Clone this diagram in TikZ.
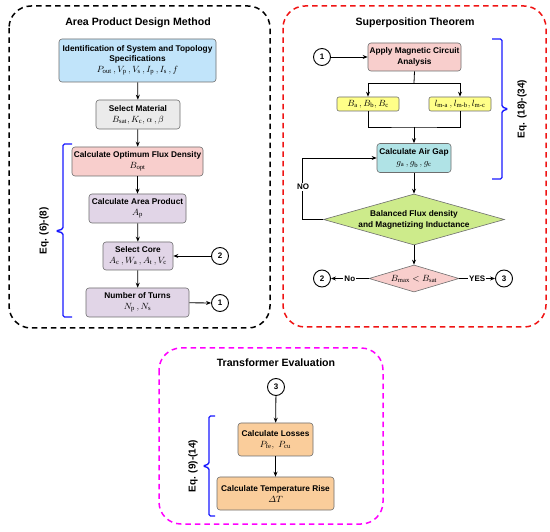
\documentclass[tikz,border=0pt]{standalone}
\usepackage{amsmath}
\usepackage{fontspec}
\setmainfont{Liberation Serif}
\setsansfont{Liberation Sans}
\usetikzlibrary{shapes.geometric,arrows.meta}
\definecolor{cblue}{RGB}{193,228,250}
\definecolor{cgray}{RGB}{235,235,235}
\definecolor{cred}{RGB}{248,206,204}
\definecolor{cpurple}{RGB}{225,213,231}
\definecolor{cyellow}{RGB}{255,255,136}
\definecolor{ccyan}{RGB}{176,227,230}
\definecolor{cgreen}{RGB}{205,235,139}
\definecolor{corange}{RGB}{250,205,155}
\definecolor{boxline}{RGB}{110,110,110}
\definecolor{braceblue}{RGB}{25,25,255}
\definecolor{framered}{RGB}{240,20,20}
\definecolor{framemag}{RGB}{255,0,255}
\newcommand{\mline}[1]{{\fontsize{9.5}{11}\selectfont$#1$}}
\tikzset{
 box/.style={draw=boxline, line width=0.6pt, rounded corners=3pt, align=center,
   font=\sffamily\bfseries\fontsize{8.3}{11}\selectfont, inner sep=1pt},
 circ/.style={draw, circle, line width=0.9pt, minimum size=17pt, inner sep=0pt,
   font=\sffamily\bfseries\fontsize{8}{9}\selectfont},
 arr/.style={-{Stealth[length=5pt,width=4pt]}, line width=0.8pt},
 ln/.style={line width=0.8pt},
 frame/.style={dash pattern=on 5.5pt off 4pt, line width=1.5pt, rounded corners=22pt},
 brace/.style={draw=braceblue, line width=1.4pt, rounded corners=1.5pt},
 title/.style={font=\sffamily\bfseries\fontsize{10.6}{12}\selectfont},
 eqlab/.style={font=\sffamily\bfseries\fontsize{10}{12}\selectfont, rotate=90},
 lab/.style={font=\sffamily\bfseries\fontsize{8}{9}\selectfont, fill=white, inner sep=1pt},
 dia/.style={draw=boxline, line width=0.6pt, diamond, inner sep=0pt},
 diatext/.style={align=center, font=\sffamily\bfseries\fontsize{8.3}{11}\selectfont},
}
\begin{document}
\begin{tikzpicture}[x=1pt,y=-1pt]
\useasboundingbox (0,0) rectangle (550,532);
\fill[white] (0,0) rectangle (550,532);
% frames
\draw[frame, black] (9,6) rectangle (270,328);
\draw[frame, framered] (283,6) rectangle (546,327);
\draw[frame, framemag] (159,348) rectangle (383,524);
% titles
\node[title] (t1) at (138,23) {Area Product Design Method};
\node[title] (t2) at (415,23) {Superposition Theorem};
\node[title] (t3) at (276,363) {Transformer Evaluation};
% left column
\node[box, fill=cblue, minimum width=157pt, minimum height=43pt] (b1) at (137.5,60.5)
  {Identification of System and Topology\\[-1pt]Specifications\\
   \mline{P_{\mathrm{out}}\,,V_{\mathrm{p}}\,,V_{\mathrm{s}}\,,I_{\mathrm{p}}\,,I_{\mathrm{s}}\,,f}};
\node[box, fill=cgray, minimum width=84pt, minimum height=29pt] (b2) at (138,114.5)
  {Select Material\\ \mline{B_{\mathrm{sat}},K_{\mathrm{c}},\alpha\,,\beta}};
\node[box, fill=cred, minimum width=131pt, minimum height=29pt] (b3) at (137.5,161.5)
  {Calculate Optimum Flux Density\\ \mline{B_{\mathrm{opt}}}};
\node[box, fill=cpurple, minimum width=97pt, minimum height=29pt] (b4) at (137.5,208.5)
  {Calculate Area Product\\ \mline{A_{\mathrm{p}}}};
\node[box, fill=cpurple, minimum width=70pt, minimum height=28pt] (b5) at (138,256)
  {Select Core\\ \mline{A_{\mathrm{c}}\,,W_{\mathrm{a}}\,,A_{\mathrm{t}}\,,V_{\mathrm{c}}}};
\node[box, fill=cpurple, minimum width=103pt, minimum height=29pt] (b6) at (137.5,302.5)
  {Number of Turns\\ \mline{N_{\mathrm{p}}\,,N_{\mathrm{s}}}};
\node[circ] (c2l) at (220,256) {2};
\node[circ] (c1l) at (220,303) {1};
\draw[arr] (b1) -- (b2);
\draw[arr] (b2) -- (b3);
\draw[arr] (b3) -- (b4);
\draw[arr] (b4) -- (b5);
\draw[arr] (b5) -- (b6);
\draw[arr] (c2l) -- (b5);
\draw[arr] (b6) -- (c1l);
\draw[brace] (72,144) -- (63,144) -- (63,229) -- (56,231) -- (63,233) -- (63,317) -- (72,317);
\node[eqlab] (eq1) at (44,231) {Eq. (6)-(8)};
% right column
\node[circ] (c1r) at (322,57) {1};
\node[box, fill=cred, minimum width=93pt, minimum height=28pt] (apply) at (414.5,57)
  {Apply Magnetic Circuit\\Analysis};
\node[box, fill=cyellow, minimum width=62pt, minimum height=14pt, rounded corners=2pt] (ya) at (368,104)
  {\mline{B_{\mathrm{a}}\,,B_{\mathrm{b}},B_{\mathrm{c}}}};
\node[box, fill=cyellow, minimum width=62pt, minimum height=14pt, rounded corners=2pt] (ylm) at (460,104)
  {\mline{l_{\mathrm{m}\text{\normalfont -}\mathrm{a}}\,,l_{\mathrm{m}\text{\normalfont -}\mathrm{b}},l_{\mathrm{m}\text{\normalfont -}\mathrm{c}}}};
\node[box, fill=ccyan, minimum width=74pt, minimum height=29pt] (air) at (414,158)
  {Calculate Air Gap\\ \mline{g_{\mathrm{a}}\,,g_{\mathrm{b}}\,,g_{\mathrm{c}}}};
\node[dia, fill=cgreen, minimum width=181pt, minimum height=51pt] (d1) at (414,219.5) {};
\node[diatext] (d1t) at (d1.center) {Balanced Flux density\\and Magnetizing Inductance};
\node[dia, fill=cred, minimum width=90pt, minimum height=27pt] (d2) at (414,278.5) {};
\node[diatext] (d2t) at (d2.center) {\mline{B_{\max} < B_{\mathrm{sat}}}};
\node[circ] (c2r) at (322,278.5) {2};
\node[circ] (c3r) at (504,278.5) {3};
\draw[arr] (c1r) -- (apply);
\draw[ln] (apply.south) -- (414,83) coordinate (split);
\draw[arr] (split) -| (ya.north);
\draw[arr] (split) -| (ylm.north);
\draw[ln] (ya.south) |- (414,127) coordinate (merge) -| (ylm.south);
\draw[arr] (merge) -- (air.north);
\draw[arr] (air) -- (d1.north);
\coordinate (loop) at (302,219.5);
\draw[arr] (d1.west) -- (loop) |- (air.west);
\node[lab] (nolab) at (303,187) {NO};
\draw[arr] (d1.south) -- (d2.north);
\draw[arr] (d2.west) -- node[lab] (nolab2) {No} (c2r.east);
\draw[arr] (d2.east) -- node[lab] (yeslab) {YES} (c3r.west);
\draw[brace] (492,39) -- (502,39) -- (502,107) -- (508,109) -- (502,111) -- (502,179) -- (492,179);
\node[eqlab] (eq2) at (522,109) {Eq. (18)-(34)};
% bottom
\node[circ] (c3b) at (276,387) {3};
\node[box, fill=corange, minimum width=75pt, minimum height=33pt] (loss) at (275.5,439.5)
  {Calculate Losses\\ \mline{P_{\mathrm{fe}},\ P_{\mathrm{cu}}}};
\node[box, fill=corange, minimum width=117pt, minimum height=33pt] (temp) at (275.5,493.5)
  {Calculate Temperature Rise\\ \mline{\varDelta T}};
\draw[arr] (c3b) -- (loss);
\draw[arr] (loss) -- (temp);
\draw[brace] (215,416) -- (209,416) -- (209,464) -- (203,466) -- (209,468) -- (209,516) -- (215,516);
\node[eqlab] (eq3) at (193,466) {Eq. (9)-(14)};
\end{tikzpicture}
\end{document}
